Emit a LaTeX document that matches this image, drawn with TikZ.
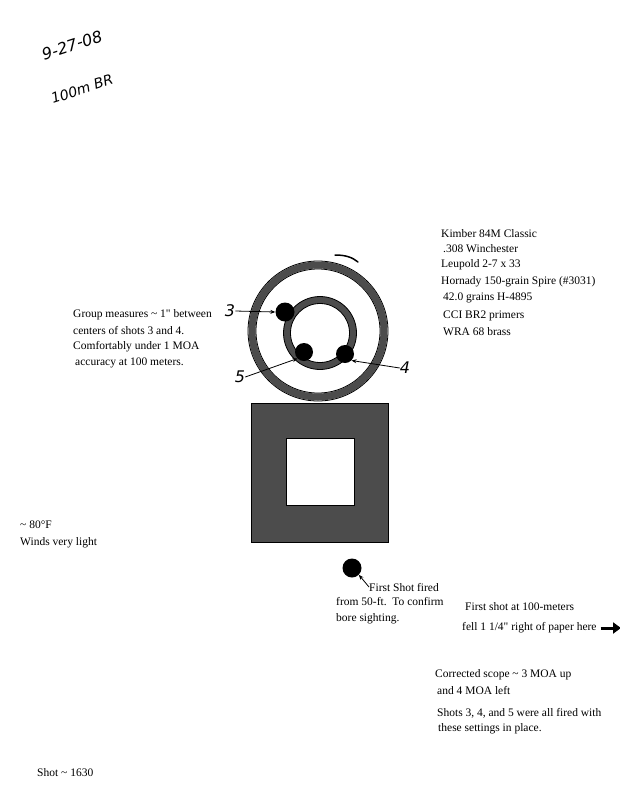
\documentclass[tikz,border=0pt]{standalone}
\usepackage{fontspec}
\setmainfont{Liberation Serif}
\newfontfamily\handfont{DejaVu Sans}
\usetikzlibrary{arrows.meta}
\begin{document}
\begin{tikzpicture}[x=1pt,y=-1pt,
  txt/.style={anchor=west,inner sep=0pt,font=\fontsize{11.5}{13}\selectfont},
  hand/.style={inner sep=0pt,font=\handfont\itshape\fontsize{16}{18}\selectfont},
  shot/.style={circle,fill=black,inner sep=0pt,minimum size=#1},
  ringline/.style={draw=black!70,line width=7pt},
  ringedge/.style={draw=black,line width=0.8pt},
  harrow/.style={-{Stealth[length=5pt,width=4pt]},line width=0.8pt}]
\useasboundingbox (0,0) rectangle (620,801);
\fill[white] (0,0) rectangle (620,801);
% handwritten header
\node[hand,rotate=18] (date) at (72,45) {9-27-08};
\node[hand,rotate=18,font=\handfont\itshape\fontsize{14}{16}\selectfont] (range) at (82,89) {100m BR};
% right list
\node[txt] (l1) at (441,234) {Kimber 84M Classic};
\node[txt] (l2) at (443,249) {.308 Winchester};
\node[txt] (l3) at (441,265) {Leupold 2-7 x 33};
\node[txt] (l4) at (441,282) {Hornady 150-grain Spire (\#3031)};
\node[txt] (l5) at (443,298) {42.0 grains H-4895};
\node[txt] (l6) at (443,316) {CCI BR2 primers};
\node[txt] (l7) at (443,332) {WRA 68 brass};
% group text
\node[txt] (g1) at (73,315) {Group measures \textasciitilde{} 1\textquotedbl{} between};
\node[txt] (g2) at (73,331) {centers of shots 3 and 4.};
\node[txt] (g3) at (73,347) {Comfortably under 1 MOA};
\node[txt] (g4) at (75,363) {accuracy at 100 meters.};
% target rings
\coordinate (tc) at (318,331);
\draw[ringline] (tc) circle (66);
\draw[ringedge] (tc) circle (70);
\draw[ringedge] (tc) circle (62);
\coordinate (ic) at (320,333);
\draw[ringline] (ic) circle (33);
\draw[ringedge] (ic) circle (36.5);
\draw[ringedge] (ic) circle (29.5);
\draw[line width=1.5pt,line cap=round] (335,255) .. controls (345,255) and (352,257) .. (358,262);
% shots
\node[shot=19pt] (s3) at (285,312) {};
\node[shot=18pt] (s5) at (304,352) {};
\node[shot=18pt] (s4) at (345,354) {};
% shot labels
\node[hand] (n3) at (230,311) {3};
\node[hand] (n5) at (240,377) {5};
\node[hand] (n4) at (405,368) {4};
\draw[harrow] (n3.east) -- (s3.west);
\draw[harrow] (n5.east) -- (s5.south west);
\draw[harrow] (n4.west) -- (s4.south east);
% square target
\fill[black!70,even odd rule] (251,403) rectangle (388,542) (286,438) rectangle (354,505);
\draw[ringedge] (251,403) rectangle (388,542);
\draw[ringedge] (286,438) rectangle (354,505);
% weather
\node[txt] (w1) at (20,525) {\textasciitilde{} 80°F};
\node[txt] (w2) at (20,543) {Winds very light};
% first shot
\node[shot=19pt] (s1) at (352,568) {};
\node[txt] (f1) at (369,587) {First Shot fired};
\node[txt] (f2) at (336,602) {from 50-ft.\ \ To confirm};
\node[txt] (f3) at (336,619) {bore sighting.};
\draw[harrow] (f1.west) -- (s1.south east);
% first shot at 100 m
\node[txt] (h1) at (465,607) {First shot at 100-meters};
\node[txt] (h2) at (462,628) {fell 1 1/4\textquotedbl{} right of paper here};
\coordinate (arrend) at (621,628);
\draw[-{Triangle[length=8pt,width=11pt]},line width=3pt] ([xshift=4pt]h2.east) -- (arrend);
% correction
\node[txt] (c1) at (435,675) {Corrected scope \textasciitilde{} 3 MOA up};
\node[txt] (c2) at (437,690) {and 4 MOA left};
\node[txt] (c3) at (437,713) {Shots 3, 4, and 5 were all fired with};
\node[txt] (c4) at (438,729) {these settings in place.};
% time
\node[txt] (t1) at (37,773) {Shot \textasciitilde{} 1630};
\end{tikzpicture}
\end{document}
